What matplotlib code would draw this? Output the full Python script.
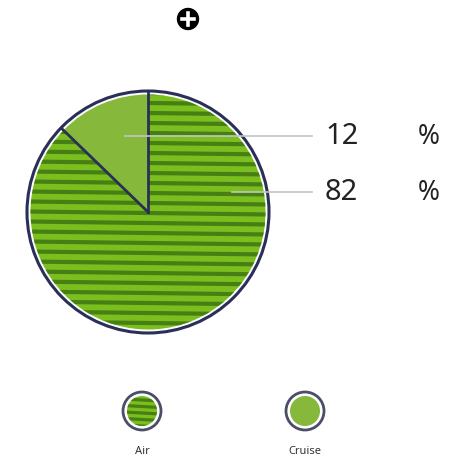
import numpy as np
import matplotlib
matplotlib.use("Agg")
import matplotlib.pyplot as plt
from matplotlib.patches import Circle

categories = ["Cruise", "Air"]
values = [12, 82]
label_text = ["12", "82"]

W, H = 455, 467
fig = plt.figure(figsize=(W / 100, H / 100), dpi=100)
ax = fig.add_axes([0, 0, 1, 1])

green = "#7bbf1f"
green_dull = "#86b83c"
stripe = "#477f14"
navy = "#2a2f58"

cx, cy, R = 148, 255, 121
ax.add_patch(Circle((cx, cy), R, facecolor="white", edgecolor=navy, lw=2.2, zorder=1))
wedges, _ = ax.pie(values, startangle=90, counterclock=True, center=(cx, cy),
                   radius=R - 3.5, colors=[green_dull, green],
                   wedgeprops=dict(linewidth=0), frame=True)
ax.set_xlim(0, W)
ax.set_ylim(0, H)
ax.set_aspect("equal")
ax.axis("off")
for w in wedges:
    w.set_zorder(2)

air = wedges[1]
for y in np.arange(cy - R, cy + R, 10.0):
    ln, = ax.plot([cx - R, cx + R], [y + 1.5, y - 1.5], color=stripe, lw=3.0, zorder=3,
                  solid_capstyle="butt")
    ln.set_clip_path(air)

tot = sum(values)
angs = [90, 90 + 360 * values[0] / tot]
for a in angs:
    t = np.deg2rad(a)
    ax.plot([cx, cx + (R - 1) * np.cos(t)], [cy, cy + (R - 1) * np.sin(t)],
            color=navy, lw=2, zorder=4)

rows = [(H - 136, 125), (H - 192, 232)]
for (yl, x0), txt in zip(rows, label_text):
    ax.plot([x0, 312], [yl, yl], color="#c4c4c4", lw=1.2, zorder=5)
    ax.text(325, yl - 1, txt, fontsize=21, color="#222222", va="center", ha="left",
            family="Noto Sans")
    ax.text(418, yl - 1, "%", fontsize=19, color="#222222", va="center", ha="left",
            family="Noto Sans")

ax.add_patch(Circle((188, H - 19), 10.5, facecolor="black", edgecolor="black", zorder=5))
ax.plot([182, 194], [H - 19, H - 19], color="white", lw=2.6, zorder=6)
ax.plot([188, 188], [H - 13, H - 25], color="white", lw=2.6, zorder=6)

for lx, name, striped, col in [(142, "Air", True, green), (305, "Cruise", False, green_dull)]:
    ly = H - 411
    ax.add_patch(Circle((lx, ly), 19, facecolor="white", edgecolor="#4a4e66", lw=2, zorder=5))
    c = Circle((lx, ly), 15, facecolor=col, edgecolor="none", zorder=6)
    ax.add_patch(c)
    if striped:
        for y in np.arange(ly - 15, ly + 16, 6.5):
            ln, = ax.plot([lx - 18, lx + 18], [y + 1, y - 1], color=stripe, lw=2.3,
                          zorder=7, solid_capstyle="butt")
            ln.set_clip_path(c)
    ax.text(lx, H - 451, name, fontsize=8, color="#333333", ha="center", va="center",
            family="Noto Sans")

fig.savefig("out.png", dpi=100)
